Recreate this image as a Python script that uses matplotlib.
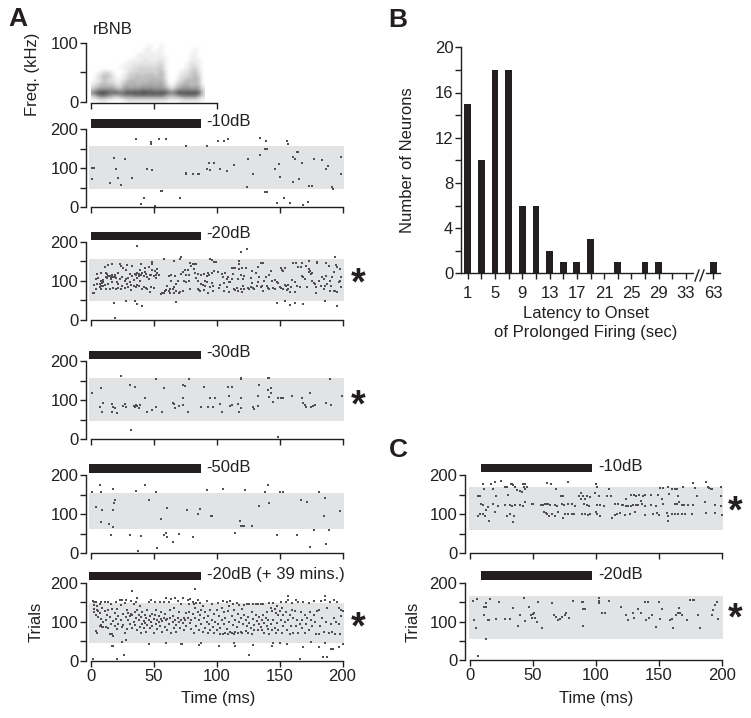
# Raster plots, spectrogram and latency histogram

import numpy as np
import matplotlib
matplotlib.use('Agg')
import matplotlib.pyplot as plt
from matplotlib.colors import LinearSegmentedColormap, PowerNorm
from matplotlib.lines import Line2D
from matplotlib.patches import Rectangle

plt.rcParams['font.family'] = ['Liberation Sans', 'DejaVu Sans']

# spectrogram, one digit per 3 ms bin, rows from 100 kHz down to 0 kHz
spec_rows = [
    '000000000000000000000000000000',
    '000000000000000100100000000000',
    '000000000000001100100000000100',
    '000000000000001101100000000100',
    '000000000000111111100000001100',
    '000000000000111111110000001100',
    '000000000011112111210000001110',
    '000000000111121212210000012110',
    '000000001112222222310000012210',
    '000000001122232323310000112310',
    '001221000122323232420001123320',
    '012332001233333433420001223420',
    '012432101233434343420002233430',
    '012322112344343444430012344430',
    '123433213444444544531023443430',
    '234444324545455555542134554541',
    '356666545666676766664356666652',
    '689987877989899898987689898982',
    '357765456667777777764456777752',
    '123322112333333333332222333321',
    '001100000111111111110001111110',
]

a10_spikes = [(35.8,176),(47.7,162),(48.2,168),(54.6,176),(59.9,176),(75.8,156),(92.2,156),(101.5,170),(106,170),(109,175),
    (134.6,177),(139,170),(156,170),(157,162),(1.3,73),(1.3,102),(2.6,100),(18.5,126),(27,124),(20,98),(22,74),(15.4,63),
    (24.4,56),(33,74),(45,98),(48.8,96),(75.5,87),(75.8,85),(81,85),(85,86),(86,86),(92,97),(95,96),(94,114),(98,114),
    (103,98),(108,93),(114,109),(125,125),(129,86),(124.5,51),(134.6,133),(138.6,150),(139.7,150),(146,98),(149.5,110),
    (150.5,78),(161,130),(162,124),(164,141),(165,141),(168,114),(161,66),(165.6,73),(173.6,54),(176,54),(177,124),(184,122),
    (188.4,107),(186.6,98),(191.6,51),(192.4,48),(198.5,86),(199,128),(56,43),(57,43),(42.4,24),(40,9),(51.4,3),(71,24),
    (138.6,38),(139.7,38),(147.6,12),(153.7,24),(158,10),(169,6),(172.8,13)]

a20_spikes = [(37,189),(19,4),(119.5,174),(124.5,182),(18.5,44),(28,48),(35.5,48),(37,42),(41,37),(67.5,46),(147.6,43),(154,48),
    (158,39),(162,43),(169,41),(186,48),(195.5,37),(58,155),(66,151),(71.5,162),(71,157),(95,157),(96,154),(98,148),(99.6,147),
    (118,151),(194,160),(173,151),(180,147),
    (2,68),(3,69),(3,90),(4,104),(5,91),(5,118),(4,80),(6,108),(7,85),(7,93),(8,120),(8,100),(8,78),(8,87),(9,95),(10,96),(10,102),
    (10,88),(11,90),(11,135),(12,119),(12,110),(12,78),(13,108),(13,117),(14,140),(14,112),(14,92),(15,80),(15,112),(16,109),(16,106),
    (17,143),(17,115),(17,96),(18,110),(18,82),(19,109),(19,116),(20,79),(20,107),(21,98),(22,82),(22,120),(22,92),(23,142),(23,104),
    (24,78),(24,138),(25,110),(25,88),(26,132),(27,100),(27,82),(28,127),(28,105),(29,92),(29,140),(30,108),(30,84),(31,96),(31,118),
    (32,90),(32,76),(33,138),(33,112),(34,102),(34,88),(35,118),(36,115),(36,84),(37,108),(37,90),(37,120),(38,118),(38,112),(38,88),
    (39,100),(39,128),(40,116),(40,142),(41,120),(41,78),(42,85),(42,112),(43,132),(43,122),(44,118),(44,82),(45,78),(45,110),(46,104),
    (46,136),(47,72),(47,115),(48,84),(48,114),(49,142),(49,147),(49,128),(50,112),(50,83),(51,124),(52,116),(52,108),(53,130),(53,120),
    (54,115),(56,66),(57,68),(58,70),(59,73),(60,77),(61,88),(62,74),(62,112),(63,78),(63,68),(64,100),(64,115),(65,80),(66,85),(66,70),
    (67,113),(68,74),(68,92),(69,100),(70,68),(71,72),(72,118),(73,74),(73,122),(74,100),(75,128),(76,114),(76,96),(77,127),(78,116),
    (78,100),(79,78),(79,146),(80,137),(81,143),(82,130),(82,143),(83,144),(83,120),(84,143),(84,108),(85,118),(85,100),(85,80),(86,76),
    (87,74),(88,115),(88,92),(89,90),(90,76),(90,118),(91,100),(91,86),(92,113),(92,96),(93,120),(93,70),(94,114),(95,84),(96,95),(96,120),
    (97,88),(97,75),(98,125),(101,123),(102,82),(103,90),(104,118),(105,110),(106,75),(106,95),(107,120),(108,105),(108,85),(109,110),
    (110,96),(110,72),(111,98),(112,105),(112,133),(113,118),(114,78),(114,134),(115,132),(115,76),(116,82),(117,74),(117,105),(118,130),
    (118,142),(119,115),(119,78),(120,132),(120,72),(121,105),(121,88),(122,78),(122,112),(123,132),(125,82),(126,78),(127,85),(127,108),
    (128,95),(128,125),(129,82),(130,78),(131,120),(132,88),(133,98),(133,135),(134,110),(135,85),(135,145),(136,88),(137,145),(137,75),
    (138,100),(139,110),(140,88),(141,82),(142,78),(142,115),(143,125),(144,100),(145,82),(146,78),(146,102),(148,98),(149,95),(150,85),
    (151,82),(151,132),(152,128),(153,126),(153,80),(154,90),(154,133),(155,86),(156,76),(157,80),(157,90),(158,72),(159,85),(160,102),
    (161,145),(162,98),(162,72),(163,145),(164,88),(165,136),(166,85),(167,135),(168,145),(168,112),(169,110),(170,105),(171,138),(172,85),
    (173,122),(173,130),(174,125),(175,118),(176,120),(176,100),(177,95),(178,92),(179,85),(179,70),(180,145),(181,100),(183,88),(184,110),
    (185,105),(185,80),(186,88),(187,145),(187,112),(188,92),(189,138),(190,100),(190,75),(191,88),(192,110),(193,122),(193,73),(194,74),
    (195,140),(196,135),(196,72),(197,96),(198,130),(198,100),(199,85),(199,110)]

a30_spikes = [(1,119),(8,132),(7,83),(10,92),(9,69),(17,90),(17,71),(18,83),(19.6,81),(21,66),(26,86),(27,89),(28,82),(24,161),(31,139),
    (35,134),(32,24),(34,86),(35,83),(36,88),(37,85),(38,81),(39,88),(43,105),(45,71),(49,74),(52,83),(52,153),(57,71),(58,131),(65,93),
    (66,89),(67,79),(70,85),(73,87),(73,139),(75,135),(73,105),(78,153),(77,71),(88,82),(90,133),(93,83),(97,83),(95,105),(99,105),(103,90),
    (104,71),(109,133),(112,134),(110,111),(111,85),(112.6,87),(117,91),(118,71),(119,79),(119,105),(119,153),(119.5,157),(129,83),(130,77),
    (132.5,85),(133,111),(133.5,139),(141,157),(142,156),(140.7,126),(143,132),(143,119),(142,107),(144.7,96),(149,105),(151,105),(152.6,105),
    (149,5),(160,111),(168,105),(169,92),(170,88),(171,83),(174,117),(175,83),(176.5,86),(178,88),(186.5,92),(191,88),(190,154),(199.5,111)]

a50_spikes = [(1,157),(7,174),(8,157),(4.5,119),(9,111),(8,79),(14.6,76),(18,165),(17.5,68),(18,111),(18.5,128),(19,136),(16.4,46),(31.5,48),
    (36,159),(40,43),(43.5,174),(46,136),(52,157),(56,87),(53,14),(37.6,6),(58,48),(60,51),(60.4,41),(61,116),(65.5,29),(70.5,49),(76.6,111),
    (81,41),(85,100),(87,113),(92,162),(95.4,94),(96,94),(105,165),(115,53),(118.5,82),(119,71),(120.5,71),(121.6,71),(122.7,162),(128,71),
    (134,122),(138.6,157),(140.5,174),(142,128),(150,157),(153,157),(148,48),(164,48),(167,136),(172,132),(174.4,17),(177,60),(181,157),
    (186,142),(185,96),(186.6,24),(189,60),(198,107)]

a20b_spikes = [(33,178),(83,185),(37,162),(1.6,4),(21,4),(26.5,16),(126,16),(166,4),(184.4,9),(187.6,9),(157,166),(186,166),(17,39),(18,39),
    (25,49),(28,53),(46,44),(60,45),(72,44),(72.6,43),(86,41),(88,47),(102,39),(114,46),(114.7,38),(129,40),(144,38),(145,47),(150.5,45),
    (156,43),(169,35),(175,49),(181,37),(186,47),(191,31),(192.4,30),(197,37),(200,43),
    (2,152),(3,150),(3,143),(3,132),(3,126),(4,150),(4,118),(4,76),(5,140),(5,72),(5,130),(6,128),(6,112),(7,145),(7,122),(7,90),(8,150),(8,92),
    (8,108),(9,88),(9,135),(10,100),(10,86),(11,150),(11,128),(12,105),(12,88),(13,118),(14,150),(14,85),(14,130),(15,112),(15,70),(16,145),
    (16,95),(17,68),(17,132),(18,102),(18,65),(19,122),(19,90),(20,150),(20,108),(21,82),(21,132),(22,115),(22,95),(23,155),(24,142),(24,105),
    (25,88),(25,155),(26,120),(26,92),(27,148),(27,72),(28,112),(28,155),(29,82),(29,130),(30,106),(30,122),(31,115),(31,95),(32,152),(32,120),
    (33,118),(33,85),(34,145),(34,100),(35,125),(35,92),(36,150),(36,110),(37,130),(37,80),(38,105),(38,118),(39,140),(39,88),(40,112),(40,72),
    (41,125),(41,95),(42,102),(42,85),(43,118),(43,98),(44,110),(44,75),(45,130),(45,92),(46,105),(46,150),(47,115),(47,84),(48,100),(48,155),
    (49,120),(49,90),(50,108),(50,72),(51,150),(51,118),(52,95),(52,130),(53,105),(53,82),(54,115),(54,100),(55,150),(55,90),(56,125),(56,108),
    (57,75),(57,102),(58,110),(58,150),(59,88),(59,120),(60,160),(60,106),(61,80),(61,108),(62,150),(62,95),(63,130),(63,110),(64,72),(64,158),
    (65,100),(65,115),(66,85),(66,135),(67,160),(67,105),(68,92),(68,75),(69,152),(69,110),(70,100),(70,125),(71,85),(72,105),(72,145),(73,160),
    (73,98),(74,110),(74,80),(75,105),(76,122),(76,90),(77,155),(77,110),(78,145),(78,125),(79,158),(79,98),(80,105),(80,82),(81,150),(81,120),
    (82,145),(82,72),(83,135),(83,110),(84,148),(84,90),(85,155),(85,125),(86,105),(86,78),(87,148),(87,118),(88,95),(88,130),(89,140),(89,75),
    (90,110),(91,125),(91,85),(92,152),(92,100),(93,115),(93,72),(94,95),(95,130),(95,80),(96,105),(96,145),(97,88),(98,120),(98,72),(99,100),
    (100,130),(100,78),(101,148),(101,95),(102,115),(103,85),(103,70),(104,105),(104,135),(105,152),(105,68),(106,95),(106,125),(107,72),(107,110),
    (108,150),(108,82),(109,128),(109,68),(110,100),(110,140),(111,152),(111,75),(112,115),(112,72),(113,145),(113,92),(114,130),(114,68),(115,105),
    (115,75),(116,148),(116,88),(117,120),(117,72),(118,100),(118,142),(119,110),(119,75),(120,132),(120,72),(121,95),(122,118),(122,142),(123,76),
    (123,105),(124,145),(124,90),(125,112),(125,72),(126,98),(126,145),(127,85),(128,125),(128,70),(129,108),(129,145),(130,92),(130,78),(131,118),
    (131,145),(132,102),(133,80),(133,145),(134,95),(134,112),(135,145),(135,88),(136,105),(136,78),(137,145),(137,118),(138,98),(138,72),(139,110),
    (140,90),(140,125),(141,82),(141,105),(142,148),(142,70),(143,135),(143,95),(144,128),(144,78),(145,148),(145,105),(146,132),(146,85),(147,122),
    (147,72),(148,140),(148,96),(149,118),(149,80),(150,128),(151,150),(151,105),(152,72),(152,135),(153,118),(153,90),(154,100),(155,150),(155,125),
    (156,78),(157,155),(157,105),(158,118),(158,70),(159,90),(160,148),(160,130),(161,110),(161,72),(162,128),(163,155),(163,90),(164,105),(165,150),
    (165,72),(166,95),(167,125),(168,105),(168,85),(169,150),(170,118),(170,72),(171,95),(172,110),(173,148),(173,80),(174,125),(175,105),(176,90),
    (177,118),(177,152),(178,100),(179,68),(180,128),(181,130),(181,70),(182,90),(183,152),(184,110),(185,75),(186,155),(187,100),(188,135),(189,72),
    (190,150),(191,95),(192,75),(193,155),(193,110),(194,70),(195,100),(196,150),(197,135),(197,95),(198,70),(199,130),(199,115),(200,128)]

c10_spikes = [(10,176),(11.4,164),(17,177),(18,164),(20,181),(24.6,185),(28,170),(29,170),(32.5,177),(33.6,177),(34,174),(35.7,168),(37,162),(40,159),
    (41,156),(42,177),(44,176),(42.6,170),(45,168),(44,163),(61,180),(64,177),(68,165),(77.5,181),(100,178),(101,168),(110.6,164),(151,166),(153,166),
    (157,168),(160.6,164),(162.5,164),(164.6,164),(169,170),(177,180),(178.6,166),(187,183),(188.6,170),(190,166),(191,165),(192.4,164),(199.5,169),
    (6.6,145),(8,145),(21,147),(30,149),(72,146),(73.5,146),(86.5,147),(88.4,153),(90,147),(92.6,147),(95,144),(88,139),(91,139),(99,153),(102,147),
    (108.5,146),(112,147),(124,139),(128,149),(130,149),(132,147),(134,149),(137.6,147),(139,149),(144,149),(149.5,149),(152,139),(158,151),(165,147),
    (180,146),(199.5,146),(186.5,130),(166,130),
    (8.7,126),(10,123),(14.6,117),(18.5,126),(22.5,121),(28,123),(32,123),(33,121),(36,123),(40,123),(42,121),(44,132),(49,126),(50,126),(56,123),(58,123),
    (59.5,126),(61,126),(62,126),(63.5,123),(67.5,123),(69,121),(73,126),(74.6,123),(78,126),(80.7,126),(83.3,121),(90.5,126),(92.6,123),(94.7,121),
    (100.5,123),(103,123),(106,121),(115,126),(117.7,126),(120.4,123),(121.7,123),(123.8,121),(125.7,121),(127.5,121),(129.7,122),(131.8,122),(133.6,123),
    (136,133),(136.8,126),(139,121),(144,123),(147.6,121),(153,126),(162.7,126),(164.6,126),(168,123),(170,123),(173,123),(177,123),(186.5,132),(194.5,123),(199,121),
    (6,96),(8,99),(10,99),(12,96),(13,109),(20,104),(29,96),(32,99),(35,96),(15,81),(34,80),(59,106),(60,102),(61,99),(63,96),(65,99),(67.5,96),(70,104),
    (73.5,91),(75,99),(78,99),(80.7,99),(82.6,99),(88.6,99),(91,99),(94,97),(95,99),(100,106),(101,99),(103,95),(112.5,91),(115,97),(117,100),(119,102),
    (123,97),(127,99),(131,106),(139,97),(145.5,99),(148.7,102),(150,97),(156.6,103),(157.4,95),(157,81),(160,99),(162.7,99),(165,99),(168,99),(170.7,99),
    (176,99),(187,102),(194.5,103),(199.8,97)]

c20_spikes = [(6,12),(12.7,56),(2,152),(5.6,159),(3,105),(4.5,84),(11,118),(11.4,138),(13,138),(14,104),(15,104),(13,148),(16,157),(20.6,107),(23,151),
    (28,106),(32,106),(34,136),(38,88),(40,117),(43,160),(44,101),(46.6,138),(48.4,118),(50,119),(51,121),(49,110),(51.6,108),(53,100),(53.7,151),(57.4,84),
    (65,148),(67,118),(68,111),(69.6,104),(71.4,106),(73,112),(75,118),(76,121),(78.6,108),(82,152),(88.6,151),(90,151),(90,132),(91,132),(90,88),(102,160),
    (102.4,154),(102.4,148),(105,123),(107,123),(110.6,154),(120,138),(124,118),(125.7,105),(129,121),(130.5,108),(133,132),(136,123),(139,151),(141.4,151),
    (140,104),(142,110),(144.6,118),(147.6,87),(150,151),(150.5,106),(152,132),(158.8,104),(160.6,106),(161.4,84),(163.5,117),(165,121),(166.7,123),(168.5,118),
    (166,134),(172,104),(174.6,155),(176.7,155),(178,155),(180.7,117),(182.7,84),(192,118),(193,130),(194.5,142),(195.8,151),(196.6,106)]

latency_slot = [0, 1, 2, 3, 4, 5, 6, 7, 8, 9, 10, 11, 12, 13, 14, 15, 16, 18]
neurons = [15, 10, 18, 18, 6, 6, 2, 1, 1, 3, 0, 1, 0, 1, 1, 0, 0, 1]
latency_labels = ['1', '', '5', '', '9', '', '13', '', '17', '', '21', '', '25', '', '29', '', '33', '63']

W, H = 751, 718
INK = '#231f20'
GREY = '#e1e3e4'
FS = 12.0


def px_axes(fig, left, right, top, bottom):
    return fig.add_axes([left / W, 1 - bottom / H, (right - left) / W, (bottom - top) / H])


def px_text(fig, x, y, s, **kw):
    kw.setdefault('fontsize', FS)
    kw.setdefault('color', INK)
    kw.setdefault('ha', 'center')
    kw.setdefault('va', 'center')
    fig.text(x / W, 1 - y / H, s, **kw)


def style_axes(ax, x_labels=False):
    ax.patch.set_visible(False)
    for s in ['top', 'right']:
        ax.spines[s].set_visible(False)
    for s in ['left', 'bottom']:
        ax.spines[s].set_linewidth(1.0)
        ax.spines[s].set_color(INK)
    ax.spines['left'].set_position(('outward', 3.5))
    ax.set_xlim(0, 200)
    ax.set_ylim(0, 200)
    ax.set_yticks([0, 100, 200])
    ax.set_yticks([50, 150], minor=True)
    ax.set_xticks([0, 50, 100, 150, 200])
    ax.tick_params(which='both', length=4, width=1.0, color=INK, labelcolor=INK, labelsize=FS, pad=1.5)
    if not x_labels:
        ax.set_xticklabels([])


def raster(fig, left, right, top, bottom, spikes, band, stim, stim_y, label, label_x, label_y, x_labels=False):
    ax = px_axes(fig, left, right, top, bottom)
    style_axes(ax, x_labels)
    ax.add_patch(Rectangle((-1, band[0]), 202, band[1] - band[0], color=GREY, lw=0, clip_on=False, zorder=0))
    t = [p[0] for p in spikes]
    y = [p[1] for p in spikes]
    ax.plot(t, y, ls='none', marker='s', ms=1.9, mew=0, color='#505052', clip_on=False, zorder=2, snap=False)
    ax.add_patch(Rectangle((stim[0], stim_y[0]), stim[1] - stim[0], stim_y[1] - stim_y[0], color=INK, lw=0, clip_on=False))
    ax.text(label_x, label_y, label, fontsize=FS, color=INK, va='center', ha='left', clip_on=False)
    return ax


fig = plt.figure(figsize=(W / 100, H / 100), dpi=100)

# panel A, spectrogram
ax = px_axes(fig, 90.7, 342.5, 42.7, 101.5)
style_axes(ax)
spec = np.array([[int(c) for c in row] for row in spec_rows], dtype=float)
cmap = LinearSegmentedColormap.from_list('spec', ['#ffffff', '#333335'])
ax.imshow(spec, extent=[0, 90, -2.5, 102.5], aspect='auto', cmap=cmap, norm=PowerNorm(1.1, vmin=0, vmax=10),
          interpolation='bicubic', clip_on=False, zorder=0)
ax.set_xlim(0, 200)
ax.set_ylim(0, 100)
ax.set_yticks([0, 100])
ax.set_yticks([50], minor=True)
ax.set_xticks([0, 50, 100])
ax.set_xticklabels([])
ax.spines['bottom'].set_bounds(0, 100)
ax.spines['bottom'].set_position(('outward', 1))
px_text(fig, 92.7, 30, 'rBNB', ha='left')
px_text(fig, 32, 74, 'Freq. (kHz)', rotation=90)

# panel A, rasters
raster(fig, 90.7, 342.5, 129.3, 207.3, a10_spikes, (48, 157), (0, 88), (204, 227), '-10dB', 92, 219)
raster(fig, 90.7, 342.5, 241.7, 320, a20_spikes, (48.5, 155), (0, 88), (205, 226), '-20dB', 92, 222)
raster(fig, 90.7, 342.5, 361, 439.3, a30_spikes, (46, 156), (-1, 88), (204, 225), '-30dB', 92, 221)
raster(fig, 90.7, 342.5, 475, 553.3, a50_spikes, (63, 155), (-1, 88), (204, 227), '-50dB', 92, 218)
raster(fig, 90.7, 342.5, 582.7, 661, a20b_spikes, (47, 149), (-1, 88), (207, 227), '-20dB (+ 39 mins.)', 92, 220, x_labels=True)
px_text(fig, 36, 622, 'Trials', rotation=90)
px_text(fig, 218, 699, 'Time (ms)')

# panel C, rasters
raster(fig, 470, 722, 475, 553, c10_spikes, (60, 168), (8.5, 97), (208, 228), '-10dB', 101.6, 223)
raster(fig, 470, 722, 582.7, 660.3, c20_spikes, (56, 166), (8.5, 97), (207, 229), '-20dB', 101.6, 222, x_labels=True)
px_text(fig, 413, 622, 'Trials', rotation=90)
px_text(fig, 596, 699, 'Time (ms)')

# significance stars
for x, y in [(358.5, 284), (358.5, 406), (358.5, 628), (735, 512), (735, 619)]:
    px_text(fig, x, y, '*', fontsize=27, fontweight='bold')

# panel B, histogram
ax = px_axes(fig, 461, 720, 47.3, 273.3)
ax.patch.set_visible(False)
for s in ['top', 'right']:
    ax.spines[s].set_visible(False)
for s in ['left', 'bottom']:
    ax.spines[s].set_linewidth(1.0)
    ax.spines[s].set_color(INK)
ax.bar(latency_slot, neurons, width=0.5, color=INK, lw=0)
ax.set_xlim(-0.49, 18.49)
ax.set_ylim(0, 20)
ax.set_yticks([0, 4, 8, 12, 16, 20])
ax.set_yticks([2, 6, 10, 14, 18], minor=True)
ax.set_xticks(latency_slot)
ax.set_xticklabels(latency_labels)
ax.tick_params(which='both', length=4, width=1.0, color=INK, labelcolor=INK, labelsize=FS, pad=1.5)
ax.tick_params(axis='x', pad=5)
ax.add_patch(Rectangle((16.55, -0.15), 0.95, 0.3, color='white', lw=0, clip_on=False, zorder=5))
for x0 in [695, 700]:
    fig.add_artist(Line2D([x0 / W, (x0 + 4) / W], [1 - 281 / H, 1 - 270 / H], color=INK, lw=1.0))
px_text(fig, 408, 160, 'Number of Neurons', rotation=90)
px_text(fig, 586, 313, 'Latency to Onset')
px_text(fig, 586, 332, 'of Prolonged Firing (sec)')

# panel letters
px_text(fig, 18, 19, 'A', fontsize=19, fontweight='bold')
px_text(fig, 398, 20, 'B', fontsize=19, fontweight='bold')
px_text(fig, 398, 450, 'C', fontsize=19, fontweight='bold')

fig.savefig('out.png', dpi=100)
plt.close(fig)
